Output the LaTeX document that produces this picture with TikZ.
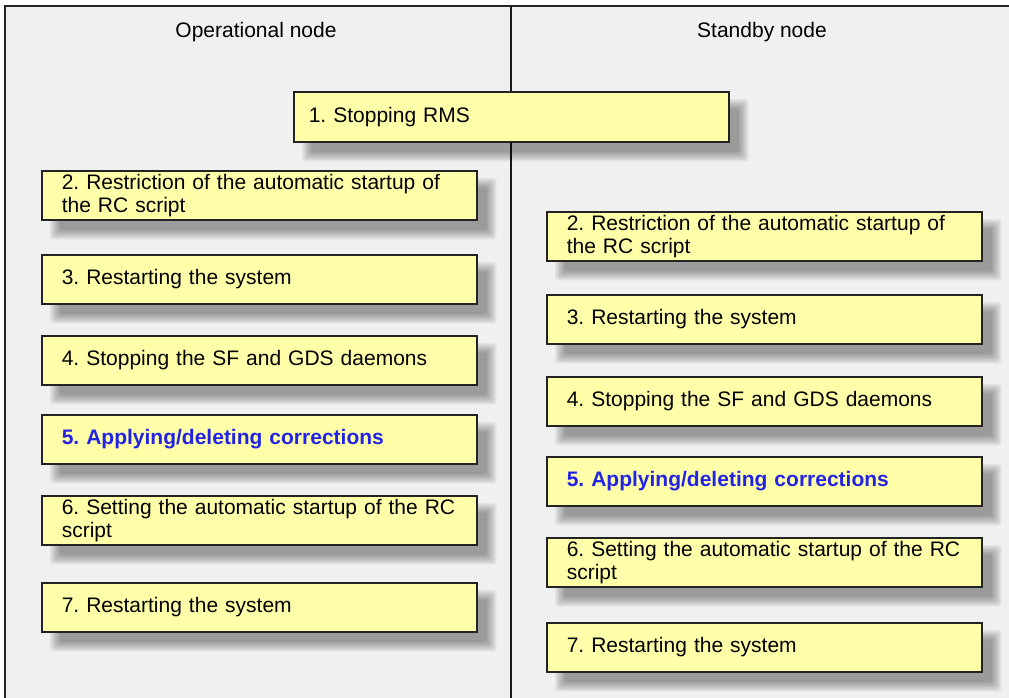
\documentclass[tikz,border=0pt]{standalone}
\usepackage{fontspec}
\setmainfont{Liberation Sans}
\usetikzlibrary{calc}
\definecolor{bg}{RGB}{240,240,240}
\definecolor{boxfill}{RGB}{255,255,170}
\definecolor{boxline}{RGB}{35,35,35}
\definecolor{stepblue}{RGB}{35,35,230}
\pgfdeclarelayer{bglayer}
\pgfdeclarelayer{shadowlayer}
\pgfsetlayers{bglayer,shadowlayer,main}
\newcommand\mkboxshadow[1]{%
  \begin{pgfonlayer}{shadowlayer}
  \foreach \k in {0,...,7}{%
    \pgfmathsetmacro\e{5-1.4*\k}%
    \fill[black, opacity=0.05, rounded corners=3pt]
      ($(#1.north west)+(14-\e,13-\e)$) rectangle ($(#1.south east)+(14+\e,14+\e)$);
  }
  \end{pgfonlayer}}
\begin{document}
\frenchspacing
\begin{tikzpicture}[x=1pt,y=-1pt,
  stepbox/.style={draw=boxline, line width=1.6pt, fill=boxfill, anchor=north west,
    minimum height=49pt, text width=395pt, inner xsep=20pt, inner ysep=0pt, align=left,
    font=\fontsize{21}{23}\selectfont},
  title/.style={anchor=base, font=\fontsize{21}{23}\selectfont, inner sep=0pt},
  frameline/.style={draw=black!85, line width=2pt},
  divider/.style={draw=black!90, line width=1.5pt}
]
\useasboundingbox (0,0) rectangle (1009,698);
% frame
\begin{pgfonlayer}{bglayer}
\fill[bg] (5,6) rectangle (1009,698);
\draw[frameline] (1009,6) -- (5,6) -- (5,698);
\draw[divider] (511,6) -- (511,698);
\end{pgfonlayer}
% titles
\node[title] (t1) at (256,38) {Operational node};
\node[title] (t2) at (762,38) {Standby node};
% step 1
\node[stepbox, minimum height=50pt, text width=405pt, inner xsep=15pt] (s1) at (293,91) {1. Stopping RMS};
% operational node column
\node[stepbox] (a2) at (41,170) {\mbox{2. Restriction of the automatic startup of}\\the RC script};
\node[stepbox] (a3) at (41,254) {3. Restarting the system};
\node[stepbox] (a4) at (41,335) {4. Stopping the SF and GDS daemons};
\node[stepbox, text=stepblue, font=\fontsize{21}{23}\selectfont\bfseries] (a5) at (41,414) {5. Applying/deleting corrections};
\node[stepbox] (a6) at (41,495) {\mbox{6. Setting the automatic startup of the RC}\\script};
\node[stepbox] (a7) at (41,582) {7. Restarting the system};
% standby node column
\node[stepbox] (b2) at (546,211) {\mbox{2. Restriction of the automatic startup of}\\the RC script};
\node[stepbox] (b3) at (546,294) {3. Restarting the system};
\node[stepbox] (b4) at (546,376) {4. Stopping the SF and GDS daemons};
\node[stepbox, text=stepblue, font=\fontsize{21}{23}\selectfont\bfseries] (b5) at (546,456) {5. Applying/deleting corrections};
\node[stepbox] (b6) at (546,537) {\mbox{6. Setting the automatic startup of the RC}\\script};
\node[stepbox] (b7) at (546,622) {7. Restarting the system};
% shadows
\foreach \n in {s1,a2,a3,a4,a5,a6,a7,b2,b3,b4,b5,b6,b7}{\mkboxshadow{\n}}
\end{tikzpicture}
\end{document}
